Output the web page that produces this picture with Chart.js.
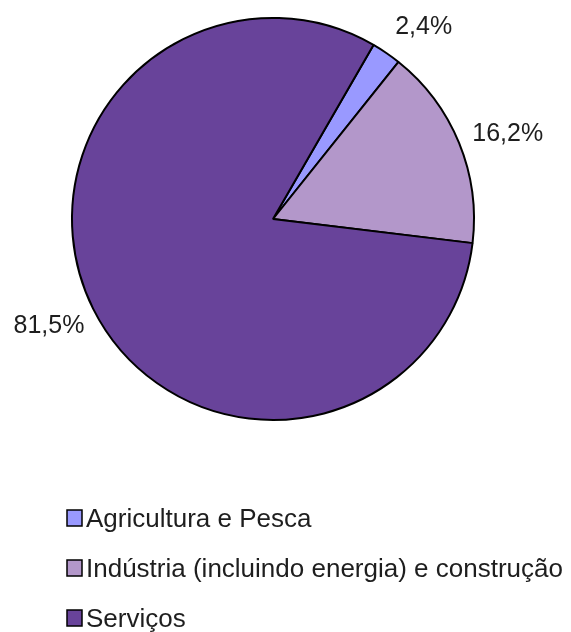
<!DOCTYPE html>
<html>
<head>
<meta charset="utf-8">
<title>Emprego por sector</title>
<script src="https://cdn.jsdelivr.net/npm/chart.js@4/dist/chart.umd.min.js"></script>
<style>
  html, body { margin: 0; padding: 0; background: #fff; }
  #chart { display: block; }
</style>
</head>
<body>
<canvas id="chart" width="571" height="632"></canvas>
<script>
// Data
const categories = ['Agricultura e Pesca', 'Indústria (incluindo energia) e construção', 'Serviços'];
const shares = [2.4, 16.2, 81.5];
const shareLabels = ['2,4%', '16,2%', '81,5%'];

const sliceColors = ['#9999FF', '#B397CA', '#68439A'];
const fontFamily = '"Liberation Sans", Arial, sans-serif';

// Percentage labels placed outside each slice
const outsideLabels = {
  id: 'outsideLabels',
  afterDatasetsDraw(chart, args, opts) {
    const ctx = chart.ctx;
    const arcs = chart.getDatasetMeta(0).data;
    ctx.save();
    ctx.font = opts.size + 'px ' + fontFamily;
    ctx.fillStyle = opts.color;
    ctx.textAlign = 'center';
    ctx.textBaseline = 'middle';
    arcs.forEach(function (arc, i) {
      const p = arc.getProps(['x', 'y', 'startAngle', 'endAngle', 'outerRadius'], true);
      const mid = (p.startAngle + p.endAngle) / 2;
      const r = p.outerRadius + opts.distance;
      const shift = opts.shifts[i] || [0, 0];
      ctx.fillText(shareLabels[i], p.x + Math.cos(mid) * r + shift[0], p.y + Math.sin(mid) * r + shift[1]);
    });
    ctx.restore();
  },
};

// Vertical legend under the pie
const columnLegend = {
  id: 'columnLegend',
  afterDraw(chart, args, opts) {
    const ctx = chart.ctx;
    const colors = chart.data.datasets[0].backgroundColor;
    ctx.save();
    ctx.font = opts.size + 'px ' + fontFamily;
    ctx.textBaseline = 'alphabetic';
    chart.data.labels.forEach(function (label, i) {
      const base = opts.top + i * opts.rowGap;
      ctx.fillStyle = colors[i];
      ctx.fillRect(opts.left, base - 17, 15, 16);
      ctx.lineWidth = 1.5;
      ctx.strokeStyle = '#000';
      ctx.strokeRect(opts.left, base - 17, 15, 16);
      ctx.fillStyle = opts.color;
      ctx.fillText(label, opts.left + 19, base);
    });
    ctx.restore();
  },
};

new Chart(document.getElementById('chart'), {
  type: 'pie',
  data: {
    labels: categories,
    datasets: [
      {
        data: shares,
        backgroundColor: sliceColors,
        borderColor: '#000',
        borderWidth: 2,
        borderAlign: 'center',
      },
    ],
  },
  options: {
    responsive: false,
    animation: false,
    rotation: 30,
    layout: {
      padding: { left: 71, top: 17, right: 96, bottom: 211 },
    },
    plugins: {
      legend: { display: false },
      tooltip: { enabled: false },
      outsideLabels: {
        size: 25,
        color: '#1e1e1e',
        distance: 45,
        shifts: [[12, 11], [7, 8], [-4, -3]],
      },
      columnLegend: {
        size: 26,
        color: '#1e1e1e',
        left: 67,
        top: 527,
        rowGap: 50,
      },
    },
  },
  plugins: [outsideLabels, columnLegend],
});
</script>
</body>
</html>
